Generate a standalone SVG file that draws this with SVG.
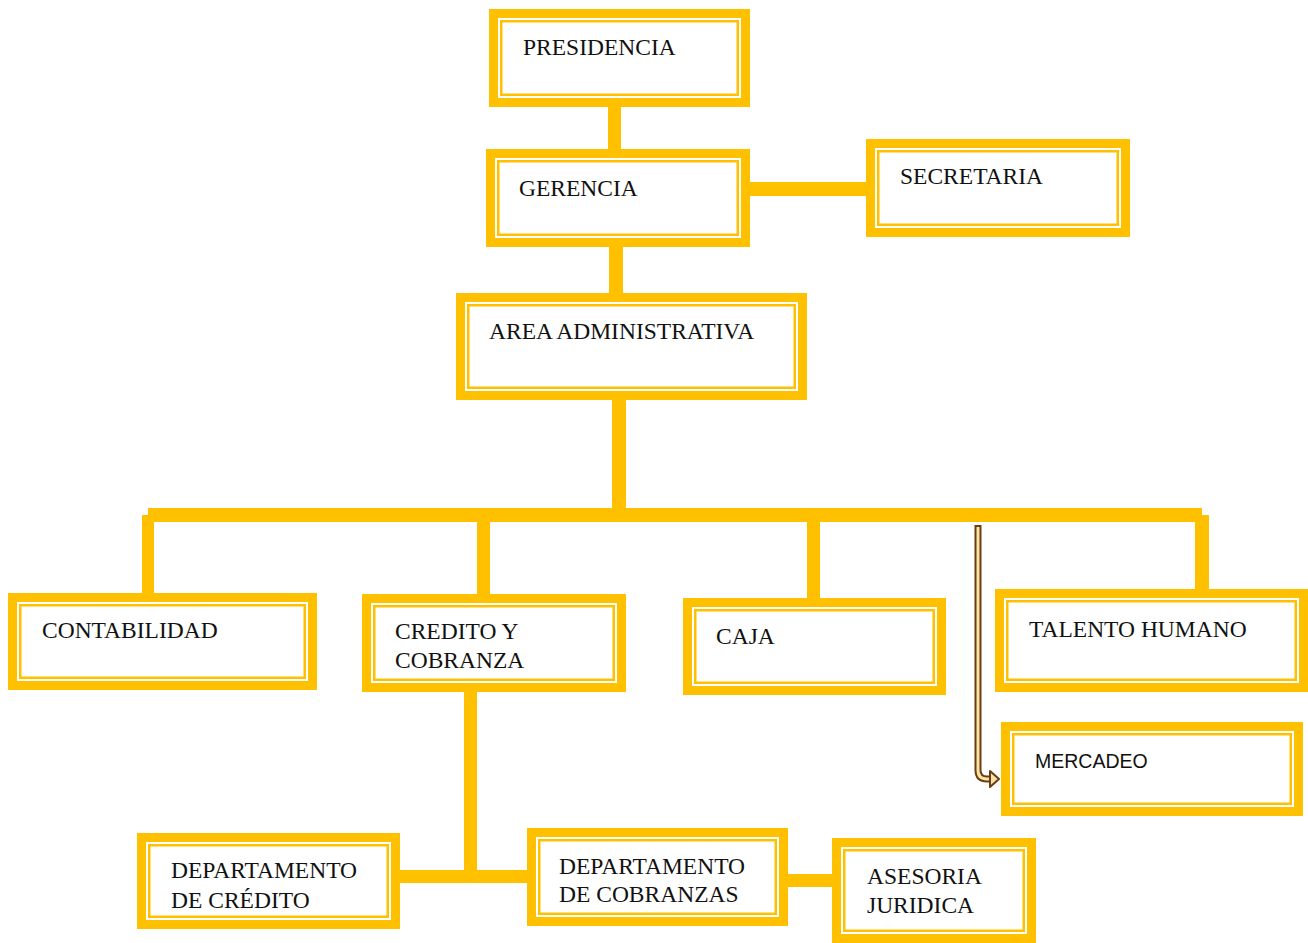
<svg xmlns="http://www.w3.org/2000/svg" width="1308" height="943" viewBox="0 0 1308 943">
  <style>
    .band { fill: #ffffff; stroke: #FFC000; stroke-width: 9; }
    .thin { fill: none; stroke: #FFC000; stroke-width: 2.5; }
    .conn { fill: #FFC000; }
    .lbl { font-family: "Liberation Serif", "Times New Roman", serif; font-size: 23.5px; fill: #111111; }
    .lbl-sans { font-family: "Liberation Sans", Arial, sans-serif; font-size: 19.5px; fill: #111111; }
  </style>

  <rect width="1308" height="943" fill="#ffffff"/>

  <!-- connectors -->
  <g id="connectors">
    <rect class="conn" x="608" y="105" width="13" height="46"/>
    <rect class="conn" x="748" y="182" width="120" height="14"/>
    <rect class="conn" x="609" y="245" width="14" height="50"/>
    <rect class="conn" x="612" y="398" width="14" height="112"/>
    <rect class="conn" x="148" y="508" width="1054" height="14"/>
    <rect class="conn" x="142" y="515" width="12" height="80"/>
    <rect class="conn" x="477" y="520" width="13" height="76"/>
    <rect class="conn" x="807" y="520" width="13" height="80"/>
    <rect class="conn" x="1195" y="515" width="14" height="76"/>
    <rect class="conn" x="464" y="690" width="13" height="186"/>
    <rect class="conn" x="398" y="870" width="131" height="13"/>
    <rect class="conn" x="786" y="874" width="48" height="13"/>
    <!-- hollow brown arrow down to MERCADEO -->
    <path d="M978,525 V770 Q978,779 987,779 H992" fill="none" stroke="#6B3D14" stroke-width="7"/>
    <path d="M978,527 V770 Q978,779 987,779 H993" fill="none" stroke="#FBE3A2" stroke-width="3"/>
    <path d="M990,771 L999,779 L990,787 Z" fill="#FBE3A2" stroke="#6B3D14" stroke-width="2" stroke-linejoin="round"/>
  </g>

  <g id="presidencia">
    <rect class="band" x="493.5" y="13.5" width="252" height="89"/>
    <rect class="thin" x="501.25" y="21.25" width="236.5" height="73.5"/>
    <text class="lbl" x="523" y="55">PRESIDENCIA</text>
  </g>

  <g id="gerencia">
    <rect class="band" x="490.5" y="153.5" width="255" height="89"/>
    <rect class="thin" x="498.25" y="161.25" width="239.5" height="73.5"/>
    <text class="lbl" x="519" y="196">GERENCIA</text>
  </g>

  <g id="secretaria">
    <rect class="band" x="870.5" y="143.5" width="255" height="89"/>
    <rect class="thin" x="878.25" y="151.25" width="239.5" height="73.5"/>
    <text class="lbl" x="900" y="184">SECRETARIA</text>
  </g>

  <g id="area-administrativa">
    <rect class="band" x="460.5" y="297.5" width="342" height="98"/>
    <rect class="thin" x="468.25" y="305.25" width="326.5" height="82.5"/>
    <text class="lbl" x="489" y="339">AREA ADMINISTRATIVA</text>
  </g>

  <g id="contabilidad">
    <rect class="band" x="12.5" y="597.5" width="300" height="88"/>
    <rect class="thin" x="20.25" y="605.25" width="284.5" height="72.5"/>
    <text class="lbl" x="42" y="638">CONTABILIDAD</text>
  </g>

  <g id="credito-cobranza">
    <rect class="band" x="366.5" y="598.5" width="255" height="89"/>
    <rect class="thin" x="374.25" y="606.25" width="239.5" height="73.5"/>
    <text class="lbl" x="395" y="639">CREDITO Y</text>
    <text class="lbl" x="395" y="668">COBRANZA</text>
  </g>

  <g id="caja">
    <rect class="band" x="687.5" y="602.5" width="254" height="88"/>
    <rect class="thin" x="695.25" y="610.25" width="238.5" height="72.5"/>
    <text class="lbl" x="716" y="644">CAJA</text>
  </g>

  <g id="talento-humano">
    <rect class="band" x="999.5" y="593.5" width="304" height="94"/>
    <rect class="thin" x="1007.25" y="601.25" width="288.5" height="78.5"/>
    <text class="lbl" x="1029" y="637">TALENTO HUMANO</text>
  </g>

  <g id="mercadeo">
    <rect class="band" x="1005.5" y="726.5" width="293" height="85"/>
    <rect class="thin" x="1013.25" y="734.25" width="277.5" height="69.5"/>
    <text class="lbl-sans" x="1035" y="768">MERCADEO</text>
  </g>

  <g id="departamento-credito">
    <rect class="band" x="141.5" y="837.5" width="254" height="87"/>
    <rect class="thin" x="149.25" y="845.25" width="238.5" height="71.5"/>
    <text class="lbl" x="171" y="878">DEPARTAMENTO</text>
    <text class="lbl" x="171" y="908">DE CRÉDITO</text>
  </g>

  <g id="departamento-cobranzas">
    <rect class="band" x="531.5" y="832.5" width="252" height="89"/>
    <rect class="thin" x="539.25" y="840.25" width="236.5" height="73.5"/>
    <text class="lbl" x="559" y="874">DEPARTAMENTO</text>
    <text class="lbl" x="559" y="902">DE COBRANZAS</text>
  </g>

  <g id="asesoria-juridica">
    <rect class="band" x="836.5" y="842.5" width="195" height="96"/>
    <rect class="thin" x="844.25" y="850.25" width="179.5" height="80.5"/>
    <text class="lbl" x="867" y="884">ASESORIA</text>
    <text class="lbl" x="867" y="913">JURIDICA</text>
  </g>
</svg>
